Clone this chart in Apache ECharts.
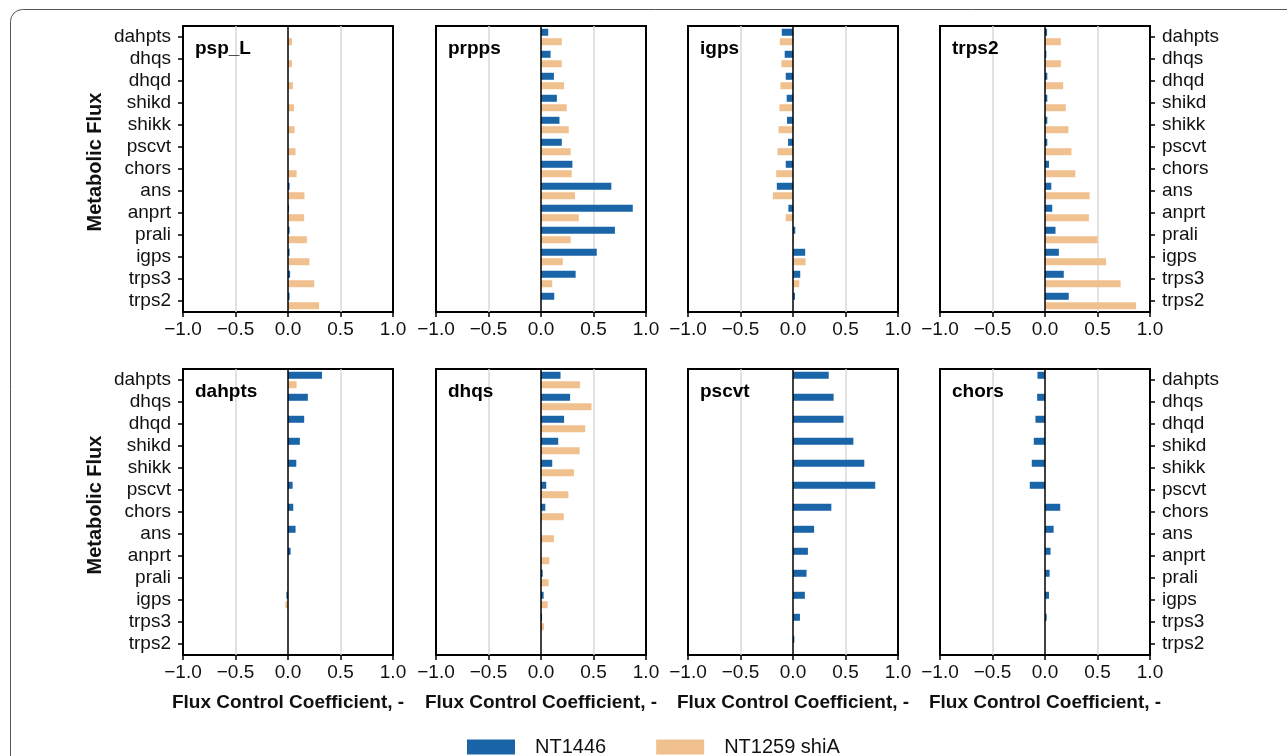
<!DOCTYPE html>
<html>
<head>
<meta charset="utf-8">
<script src="https://cdn.jsdelivr.net/npm/echarts@6/dist/echarts.min.js"></script>
<style>
  html, body { margin: 0; padding: 0; background: #fff; }
  #chart { width: 1287px; height: 756px; }
</style>
</head>
<body>
<div id="chart"></div>
<script>
// Metabolic fluxes (rows of every panel, top to bottom)
const fluxes = ['dahpts', 'dhqs', 'dhqd', 'shikd', 'shikk', 'pscvt', 'chors',
                'ans', 'anprt', 'prali', 'igps', 'trps3', 'trps2'];

// Enzyme whose control is shown in each panel
const enzymes = ['psp_L', 'prpps', 'igps', 'trps2', 'dahpts', 'dhqs', 'pscvt', 'chors'];

const strains = ['NT1446', 'NT1259 shiA'];

// Flux control coefficients, one array per enzyme and strain
const pspL_NT1446   = [0, 0, 0, 0, 0, 0, 0, 0.015, 0.01, 0.015, 0.015, 0.02, 0.015];
const pspL_shiA     = [0.038, 0.038, 0.047, 0.057, 0.063, 0.072, 0.082, 0.157, 0.154, 0.18, 0.204, 0.25, 0.296];

const prpps_NT1446  = [0.069, 0.091, 0.123, 0.151, 0.176, 0.198, 0.299, 0.67, 0.874, 0.704, 0.531, 0.33, 0.126];
const prpps_shiA    = [0.198, 0.198, 0.22, 0.245, 0.264, 0.283, 0.292, 0.324, 0.36, 0.283, 0.208, 0.107, 0];

const igps_NT1446   = [-0.107, -0.079, -0.069, -0.06, -0.057, -0.047, -0.069, -0.154, -0.044, 0.022, 0.116, 0.069, 0.019];
const igps_shiA     = [-0.126, -0.11, -0.12, -0.129, -0.138, -0.148, -0.16, -0.192, -0.069, 0.01, 0.12, 0.06, 0];

const trps2_NT1446  = [0.02, 0.013, 0.022, 0.022, 0.022, 0.022, 0.038, 0.06, 0.069, 0.1, 0.132, 0.179, 0.226];
const trps2_shiA    = [0.151, 0.151, 0.173, 0.198, 0.223, 0.252, 0.289, 0.425, 0.418, 0.5, 0.582, 0.72, 0.868];

const dahpts_NT1446 = [0.324, 0.189, 0.154, 0.113, 0.079, 0.044, 0.05, 0.072, 0.025, 0, -0.015, 0, 0];
const dahpts_shiA   = [0.082, 0, 0, 0, 0, 0, 0, 0, 0, -0.005, -0.025, 0, 0];

const dhqs_NT1446   = [0.186, 0.277, 0.22, 0.164, 0.107, 0.05, 0.041, 0, 0, 0.016, 0.025, 0.01, 0];
const dhqs_shiA     = [0.371, 0.481, 0.421, 0.368, 0.314, 0.261, 0.217, 0.123, 0.079, 0.072, 0.063, 0.028, 0];

const pscvt_NT1446  = [0.34, 0.387, 0.481, 0.575, 0.679, 0.783, 0.365, 0.201, 0.142, 0.129, 0.113, 0.066, 0.013];
const pscvt_shiA    = [0, 0, 0, 0, 0, 0, 0, 0, 0, 0, 0, 0, 0];

const chors_NT1446  = [-0.072, -0.075, -0.091, -0.107, -0.126, -0.145, 0.145, 0.082, 0.053, 0.044, 0.038, 0.016, 0];
const chors_shiA    = [0, 0, 0, 0, 0, 0, 0, 0, 0, 0, 0, 0, 0];

const panelData = [
  [pspL_NT1446, pspL_shiA],
  [prpps_NT1446, prpps_shiA],
  [igps_NT1446, igps_shiA],
  [trps2_NT1446, trps2_shiA],
  [dahpts_NT1446, dahpts_shiA],
  [dhqs_NT1446, dhqs_shiA],
  [pscvt_NT1446, pscvt_shiA],
  [chors_NT1446, chors_shiA]
];

// x axis ticks
const xMin = -1, xMax = 1, xStep = 0.5;

const colors = ['#1a64a8', '#f1c08f'];
const FONT = "'Liberation Sans', Arial, Helvetica, sans-serif";

// panel layout (pixels)
const colLeft = [183, 436, 688, 940];
const rowTop = [26, 369];
const panelW = 210, panelH = 286;

const fmtTick = v => (v < 0 ? '\u2212' : '') + Math.abs(v).toFixed(1);

const grid = [], xAxis = [], yAxis = [], series = [], title = [];

for (let i = 0; i < 8; i++) {
  const row = Math.floor(i / 4), col = i % 4;
  const isLeft = col === 0, isRight = col === 3, isBottom = row === 1;

  grid.push({
    left: colLeft[col], top: rowTop[row], width: panelW, height: panelH,
    show: true, borderColor: '#000', borderWidth: 2, containLabel: false
  });

  xAxis.push({
    type: 'value', gridIndex: i, min: xMin, max: xMax, interval: xStep,
    axisLine: { show: false, onZero: false },
    axisTick: { show: true, length: 5, lineStyle: { color: '#000', width: 1.5 } },
    axisLabel: { formatter: fmtTick, fontSize: 19, color: '#111', fontFamily: FONT, margin: 8 },
    splitLine: { show: true, lineStyle: { color: ['rgba(0,0,0,0)', '#d8d8d8'], width: 1.5 } },
    name: isBottom ? 'Flux Control Coefficient, -' : '',
    nameLocation: 'middle', nameGap: 38,
    nameTextStyle: { fontSize: 19, fontWeight: 'bold', color: '#111', fontFamily: FONT }
  });

  yAxis.push({
    type: 'category', gridIndex: i, data: fluxes, inverse: true,
    position: isRight ? 'right' : 'left',
    axisLine: { show: false, onZero: false },
    axisTick: { show: isLeft || isRight, alignWithLabel: true, interval: 0, length: 5,
                lineStyle: { color: '#000', width: 1.5 } },
    axisLabel: { show: isLeft || isRight, interval: 0, fontSize: 19, color: '#111',
                 fontFamily: FONT, margin: 12 },
    splitLine: { show: false },
    name: isLeft ? 'Metabolic Flux' : '',
    nameLocation: 'middle', nameGap: 78, nameRotate: 90,
    nameTextStyle: { fontSize: 20, fontWeight: 'bold', color: '#111', fontFamily: FONT,
                     padding: [0, 0, 0, 14] }
  });

  panelData[i].forEach((vals, s) => {
    const ser = {
      name: strains[s], type: 'bar', xAxisIndex: i, yAxisIndex: i,
      data: vals, barWidth: 7, barGap: '35%',
      itemStyle: { color: colors[s] },
      emphasis: { disabled: true }, animation: false
    };
    if (s === 0) {
      // vertical zero reference line
      ser.markLine = {
        silent: true, symbol: ['none', 'none'], label: { show: false },
        lineStyle: { color: '#000', width: 1.5, type: 'solid' },
        data: [{ xAxis: 0 }], animation: false
      };
    }
    series.push(ser);
  });

  title.push({
    text: enzymes[i], left: colLeft[col] + 7, top: rowTop[row] + 8,
    textStyle: { fontSize: 19, fontWeight: 'bold', color: '#000', fontFamily: FONT }
  });
}

const chart = echarts.init(document.getElementById('chart'), null, { renderer: 'canvas' });
chart.setOption({
  backgroundColor: '#fff',
  animation: false,
  title, grid, xAxis, yAxis, series,
  legend: {
    data: strains, left: 467, top: 737, padding: 0,
    itemWidth: 48, itemHeight: 15, itemGap: 50, icon: 'rect',
    textStyle: { fontSize: 20, color: '#111', fontFamily: FONT, padding: [0, 0, 0, 15] }
  },
  graphic: [{
    type: 'rect', silent: true, z: -1,
    shape: { x: 10.5, y: 9.5, width: 1300, height: 800, r: 12 },
    style: { fill: 'none', stroke: '#555', lineWidth: 1 }
  }]
});
</script>
</body>
</html>
